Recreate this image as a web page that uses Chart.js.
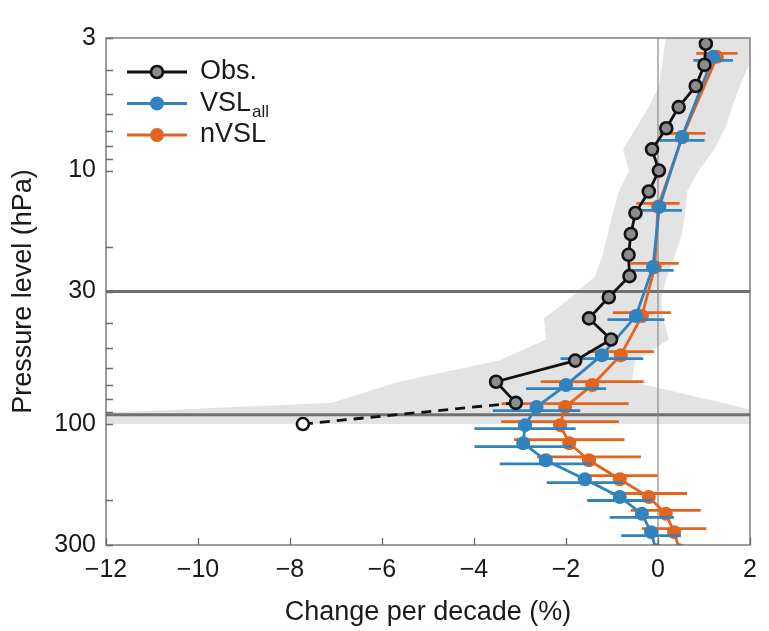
<!DOCTYPE html>
<html>
<head>
<meta charset="utf-8">
<script src="https://cdn.jsdelivr.net/npm/chart.js@4.4.1/dist/chart.umd.min.js"></script>
<style>
  html, body { margin: 0; padding: 0; background: #fff; }
  #wrap { width: 769px; height: 631px; }
</style>
</head>
<body>
<div id="wrap"><canvas id="profileChart" width="769" height="631"></canvas></div>
<script>
// observed trend profile, top (3 hPa) to bottom (100 hPa)
const obsLevels = [3.16, 3.83, 4.64, 5.62, 6.81, 8.25, 10, 12.1, 14.7, 17.8, 21.5, 26.1, 31.6, 38.3, 46.4, 56.2, 68.1, 82.5, 100];
const obsTrend = [1.04, 1.01, 0.82, 0.45, 0.18, -0.13, 0.02, -0.20, -0.49, -0.59, -0.64, -0.62, -1.07, -1.50, -1.02, -1.80, -3.52, -3.09, -7.72];

// grey uncertainty band around the observations
const bandLevels = [2.9, 3.16, 3.83, 4.64, 5.62, 6.81, 8.25, 10, 12.1, 14.7, 17.8, 21.5, 26.1, 31.6, 38.3, 46.4, 56.2, 68.1, 82.5, 100];
const bandLow = [0.16, 0.15, 0.09, 0.02, -0.20, -0.48, -0.76, -0.63, -0.85, -0.98, -1.09, -1.20, -1.37, -1.89, -2.48, -2.43, -3.46, -5.63, -7.09, -17.7];
const bandHigh = [2.06, 2.02, 1.98, 1.78, 1.61, 1.46, 1.22, 0.89, 0.63, 0.59, 0.52, 0.37, 0.20, 0.07, 0.11, 0.24, -0.50, -0.57, 1.39, 3.33];

// model profiles (last level sits just below the plot)
const modelLevels = [3.56, 7.37, 13.9, 24.0, 37.5, 53.5, 70.2, 85.7, 101, 119, 139, 165, 194, 226, 267, 315];
const vslTrend = [1.20, 0.52, 0.03, -0.11, -0.48, -1.22, -2.00, -2.64, -2.89, -2.93, -2.44, -1.59, -0.83, -0.35, -0.15, -0.04];
const vslErr = [0.43, 0.49, 0.49, 0.45, 0.62, 0.90, 0.87, 0.95, 1.10, 1.06, 1.00, 0.83, 0.71, 0.70, 0.65, 0.65];
const nvslTrend = [1.28, 0.53, 0.00, -0.07, -0.35, -0.81, -1.43, -2.02, -2.13, -1.93, -1.50, -0.83, -0.20, 0.17, 0.35, 0.47];
const nvslErr = [0.45, 0.50, 0.47, 0.52, 0.63, 0.72, 1.12, 1.38, 1.28, 1.20, 1.13, 0.82, 0.83, 0.76, 0.70, 0.70];

// guide lines and ticks
const refLevels = [30, 92];
const xTicks = [-12, -10, -8, -6, -4, -2, 0, 2];
const yTicks = [3, 10, 30, 100, 300];
const yMinorTicks = [4, 5, 6, 7, 8, 9, 20, 40, 50, 60, 70, 80, 90, 200];

const legendLabels = ['Obs.', 'VSL', 'nVSL'];
const legendSubs = ['', 'all', ''];

const FONT = "'Liberation Sans', Arial, sans-serif";
const TEXT = '#1a1a1a';
const BLUE = '#3282be';
const ORANGE = '#e2641e';
const OBS_FILL = '#8c8c8c';

const toPoints = (xs, ys) => ys.map((p, i) => ({ x: xs[i], y: p }));

// band outline: left edge downwards, then right edge back up
const bandShape = toPoints(bandLow, bandLevels)
    .concat(toPoints(bandHigh, bandLevels).reverse());

// horizontal error bars, drawn just before their own series
const errorBarPlugin = {
    id: 'errorBars',
    beforeDatasetDraw(chart, args) {
        const ds = chart.data.datasets[args.index];
        if (!ds.errors) return;
        const { ctx, chartArea: a, scales: { x, y } } = chart;
        ctx.save();
        ctx.beginPath();
        ctx.rect(a.left, a.top, a.right - a.left, a.bottom - a.top);
        ctx.clip();
        ctx.strokeStyle = ds.borderColor;
        ctx.lineWidth = 2.8;
        ds.data.forEach((pt, i) => {
            const py = y.getPixelForValue(pt.y) + ds.errorShift;
            ctx.beginPath();
            ctx.moveTo(x.getPixelForValue(pt.x - ds.errors[i]), py);
            ctx.lineTo(x.getPixelForValue(pt.x + ds.errors[i]), py);
            ctx.stroke();
        });
        ctx.restore();
    }
};

// box frame + inward tick marks
const framePlugin = {
    id: 'frame',
    afterDatasetsDraw(chart) {
        const { ctx, chartArea: a, scales: { x, y } } = chart;
        ctx.save();
        ctx.strokeStyle = '#6a6a6a';
        ctx.lineWidth = 1.3;
        ctx.strokeRect(a.left, a.top, a.right - a.left, a.bottom - a.top);
        ctx.beginPath();
        yTicks.concat(yMinorTicks).forEach(v => {
            const py = Math.round(y.getPixelForValue(v)) + 0.5;
            ctx.moveTo(a.left, py);
            ctx.lineTo(a.left + 7, py);
        });
        xTicks.forEach(v => {
            const px = Math.round(x.getPixelForValue(v)) + 0.5;
            ctx.moveTo(px, a.bottom);
            ctx.lineTo(px, a.bottom - 7);
        });
        ctx.stroke();
        ctx.restore();
    }
};

// legend inside the top-left corner (needs a subscript)
const legendPlugin = {
    id: 'innerLegend',
    afterDraw(chart) {
        const { ctx, chartArea: a } = chart;
        const sets = chart.data.datasets.slice(0, 3);
        ctx.save();
        sets.forEach((ds, i) => {
            const ly = a.top + 34 + i * 31.5;
            ctx.strokeStyle = ds.borderColor;
            ctx.lineWidth = 2.8;
            ctx.beginPath();
            ctx.moveTo(a.left + 21, ly);
            ctx.lineTo(a.left + 81, ly);
            ctx.stroke();
            ctx.beginPath();
            ctx.arc(a.left + 51, ly, i === 0 ? 6 : 7, 0, Math.PI * 2);
            ctx.fillStyle = i === 0 ? OBS_FILL : ds.borderColor;
            ctx.fill();
            if (i === 0) { ctx.lineWidth = 2.6; ctx.stroke(); }
            ctx.fillStyle = TEXT;
            ctx.textBaseline = 'middle';
            ctx.textAlign = 'left';
            ctx.font = '27px ' + FONT;
            ctx.fillText(legendLabels[i], a.left + 94, ly);
            if (legendSubs[i]) {
                const w = ctx.measureText(legendLabels[i]).width;
                ctx.font = '17px ' + FONT;
                ctx.fillText(legendSubs[i], a.left + 95 + w, ly + 9);
            }
        });
        ctx.restore();
    }
};

new Chart(document.getElementById('profileChart'), {
    type: 'line',
    data: {
        datasets: [
            {
                label: 'Obs.',
                data: toPoints(obsTrend, obsLevels),
                borderColor: '#111',
                borderWidth: 2.8,
                pointRadius: 6,
                pointBorderWidth: 2.6,
                pointBorderColor: '#111',
                pointBackgroundColor: obsLevels.map((p, i) => i === obsLevels.length - 1 ? '#fff' : OBS_FILL),
                segment: {
                    borderDash: c => c.p1DataIndex === obsLevels.length - 1 ? [10, 7] : undefined
                },
                order: 1
            },
            {
                label: 'VSL_all',
                data: toPoints(vslTrend, modelLevels),
                borderColor: BLUE,
                backgroundColor: BLUE,
                borderWidth: 2.8,
                pointRadius: 7,
                pointBorderWidth: 0,
                errors: vslErr,
                errorShift: 3.5,
                order: 2
            },
            {
                label: 'nVSL',
                data: toPoints(nvslTrend, modelLevels),
                borderColor: ORANGE,
                backgroundColor: ORANGE,
                borderWidth: 2.8,
                pointRadius: 7,
                pointBorderWidth: 0,
                errors: nvslErr,
                errorShift: -3.5,
                order: 3
            },
            {
                label: 'zero',
                data: [{ x: 0, y: 2.5 }, { x: 0, y: 400 }],
                borderColor: '#8a8a8a',
                borderWidth: 1.2,
                pointRadius: 0,
                order: 4
            },
            ...refLevels.map(p => ({
                label: 'ref ' + p,
                data: [{ x: -13, y: p }, { x: 3, y: p }],
                borderColor: '#707070',
                borderWidth: 3,
                pointRadius: 0,
                order: 5
            })),
            {
                label: 'band',
                data: bandShape,
                borderColor: 'rgba(0,0,0,0)',
                borderWidth: 0,
                backgroundColor: '#e3e3e3',
                pointRadius: 0,
                fill: 'shape',
                order: 6
            }
        ]
    },
    options: {
        responsive: false,
        animation: false,
        events: [],
        layout: { padding: { top: 38, right: 19, left: 0, bottom: 0 } },
        scales: {
            x: {
                type: 'linear',
                min: -12,
                max: 2,
                grid: { display: false, drawTicks: false },
                border: { display: false },
                afterBuildTicks: s => { s.ticks = xTicks.map(v => ({ value: v })); },
                afterFit: s => { s.height = 86; },
                ticks: {
                    autoSkip: false,
                    maxRotation: 0,
                    padding: 10,
                    color: TEXT,
                    font: { size: 25, family: FONT },
                    callback: v => v < 0 ? '\u2212' + Math.abs(v) : String(v)
                },
                title: {
                    display: true,
                    text: 'Change per decade (%)',
                    color: TEXT,
                    font: { size: 27, family: FONT },
                    padding: { top: 0, bottom: 2 }
                }
            },
            y: {
                type: 'logarithmic',
                min: 3,
                max: 300,
                reverse: true,
                grid: { display: false, drawTicks: false },
                border: { display: false },
                afterBuildTicks: s => { s.ticks = yTicks.map(v => ({ value: v })); },
                afterFit: s => { s.width = 106; },
                ticks: {
                    autoSkip: false,
                    padding: 10,
                    color: TEXT,
                    font: { size: 25, family: FONT },
                    callback: v => String(v)
                },
                title: {
                    display: true,
                    text: 'Pressure level (hPa)',
                    color: TEXT,
                    font: { size: 27, family: FONT },
                    padding: { top: 7, bottom: 0 }
                }
            }
        },
        plugins: {
            legend: { display: false },
            tooltip: { enabled: false }
        }
    },
    plugins: [errorBarPlugin, framePlugin, legendPlugin]
});
</script>
</body>
</html>
